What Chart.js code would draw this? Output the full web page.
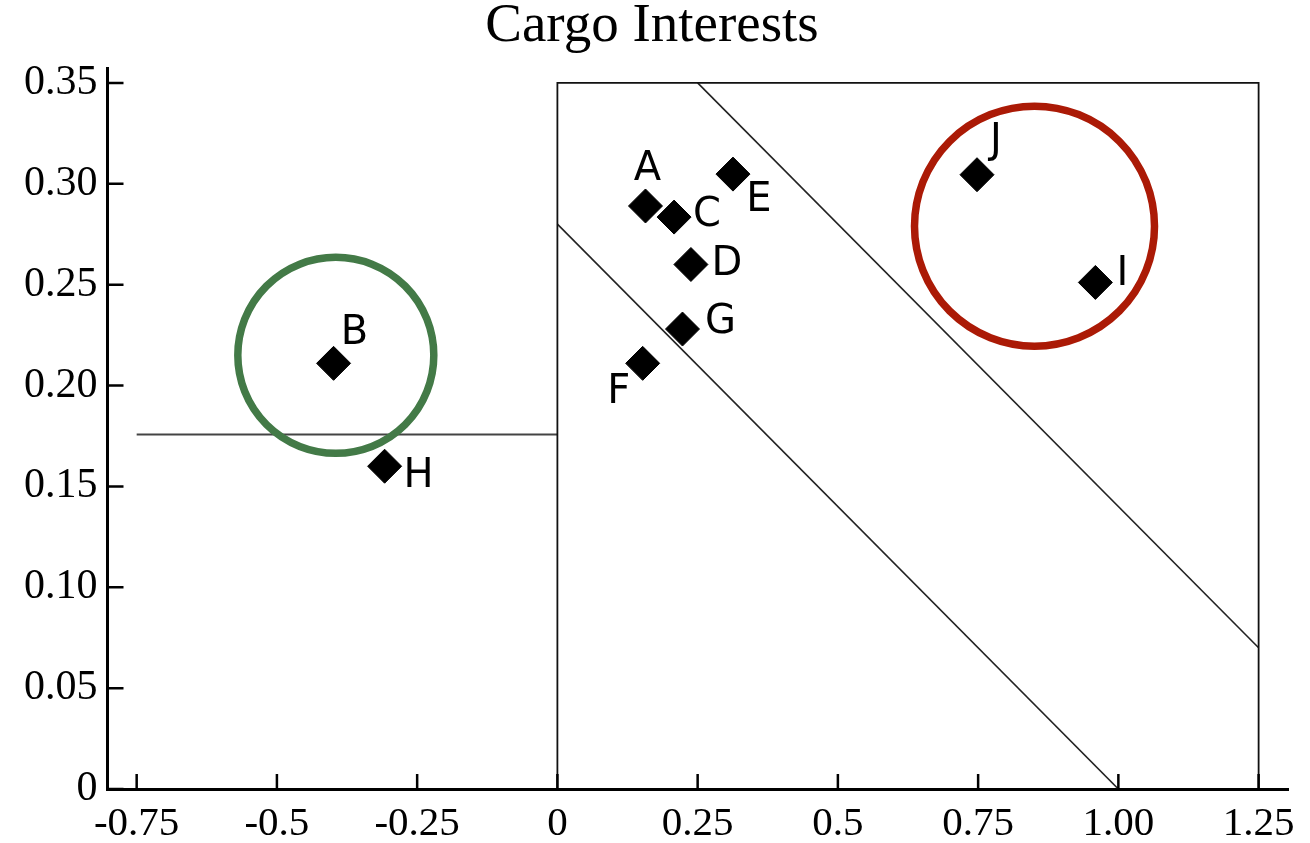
<!DOCTYPE html>
<html lang="en">
<head>
    <meta charset="UTF-8">
    <title>Cargo Interests</title>
    <style>
        body { margin: 0; background: #fff; }
        #wrap { width: 1310px; height: 843px; }
    </style>
</head>
<body>
    <div id="wrap"><canvas id="chart"></canvas></div>

    <script src="https://cdn.jsdelivr.net/npm/chart.js"></script>
    <script>
        // data
        const pointNames = ['A', 'B', 'C', 'D', 'E', 'F', 'G', 'H', 'I', 'J'];
        const pointX = [0.157, -0.399, 0.208, 0.238, 0.313, 0.152, 0.223, -0.308, 0.959, 0.748];
        const pointY = [0.289, 0.211, 0.2835, 0.260, 0.3048, 0.211, 0.228, 0.160, 0.2511, 0.3045];

        const boxX = [0, 0, 1.25, 1.25];
        const boxY = [0, 0.35, 0.35, 0];
        const lowLineX = [0, 1.0];
        const lowLineY = [0.28, 0];
        const highLineX = [0.25, 1.25];
        const highLineY = [0.35, 0.07];
        const cutLineX = [-0.75, 0];
        const cutLineY = [0.1757, 0.1757];

        const greenCircle = { x: -0.395, y: 0.215 };
        const redCircle = { x: 0.8505, y: 0.279 };

        const xTickValues = [-0.75, -0.5, -0.25, 0, 0.25, 0.5, 0.75, 1.0, 1.25];
        const xTickLabels = ['-0.75', '-0.5', '-0.25', '0', '0.25', '0.5', '0.75', '1.00', '1.25'];
        const yTickValues = [0, 0.05, 0.1, 0.15, 0.2, 0.25, 0.3, 0.35];
        const yTickLabels = ['0', '0.05', '0.10', '0.15', '0.20', '0.25', '0.30', '0.35'];

        // label offsets in px from each diamond (same order as pointNames)
        const labelOffsets = [[2, -36], [21, -30], [33, -1], [36, 0], [26, 26], [-24, 29], [38, -6], [34, 10], [27, -8], [19, -33]];

        const pairs = (xs, ys) => xs.map((x, i) => ({ x: x, y: ys[i] }));

        function lineSet(xs, ys, color, width) {
            return {
                type: 'line', data: pairs(xs, ys), showLine: true,
                borderColor: color, borderWidth: width, pointRadius: 0, fill: false, tension: 0
            };
        }

        const pointLabels = {
            id: 'pointLabels',
            afterDatasetsDraw(chart) {
                const ctx = chart.ctx;
                const meta = chart.getDatasetMeta(0);
                ctx.save();
                ctx.font = '40px "DejaVu Sans"';
                ctx.fillStyle = '#000';
                ctx.textAlign = 'center';
                ctx.textBaseline = 'middle';
                meta.data.forEach((el, i) => {
                    ctx.fillText(pointNames[i], el.x + labelOffsets[i][0], el.y + labelOffsets[i][1]);
                });
                ctx.restore();
            }
        };

        // tick marks pointing inward
        const innerTicks = {
            id: 'innerTicks',
            afterDraw(chart) {
                const ctx = chart.ctx;
                const x = chart.scales.x, y = chart.scales.y;
                ctx.save();
                ctx.strokeStyle = '#000';
                ctx.lineWidth = 2.5;
                ctx.beginPath();
                xTickValues.forEach(v => {
                    const px = x.getPixelForValue(v);
                    ctx.moveTo(px, y.bottom);
                    ctx.lineTo(px, y.bottom - 15);
                });
                yTickValues.forEach(v => {
                    const py = y.getPixelForValue(v);
                    ctx.moveTo(x.left, py);
                    ctx.lineTo(x.left + 16, py);
                });
                ctx.stroke();
                ctx.restore();
            }
        };

        new Chart(document.getElementById('chart'), {
            type: 'scatter',
            data: {
                datasets: [
                    {
                        data: pairs(pointX, pointY),
                        pointStyle: 'rectRot', pointRadius: 17,
                        backgroundColor: '#000', borderColor: '#000', borderWidth: 1
                    },
                    {
                        data: [greenCircle], pointStyle: 'circle', pointRadius: 98,
                        backgroundColor: 'rgba(0,0,0,0)', borderColor: '#437a47', borderWidth: 7.5
                    },
                    {
                        data: [redCircle], pointStyle: 'circle', pointRadius: 120,
                        backgroundColor: 'rgba(0,0,0,0)', borderColor: '#ab1a06', borderWidth: 7.5
                    },
                    lineSet(boxX, boxY, '#111', 1.8),
                    lineSet(lowLineX, lowLineY, '#222', 1.6),
                    lineSet(highLineX, highLineY, '#222', 1.6),
                    lineSet(cutLineX, cutLineY, '#444', 2)
                ]
            },
            options: {
                responsive: true,
                maintainAspectRatio: false,
                animation: false,
                events: [],
                layout: { autoPadding: false, padding: { left: 14, right: 20, top: 0, bottom: -17 } },
                plugins: {
                    legend: { display: false },
                    tooltip: { enabled: false },
                    title: {
                        display: true,
                        text: 'Cargo Interests',
                        color: '#000',
                        font: { family: '"Liberation Serif"', size: 55, weight: 'normal', lineHeight: 1 },
                        padding: { top: -1, bottom: 14 }
                    }
                },
                scales: {
                    x: {
                        type: 'linear', min: -0.802, max: 1.304,
                        afterBuildTicks: s => { s.ticks = xTickValues.map(v => ({ value: v })); },
                        ticks: {
                            callback: (v, i) => xTickLabels[i],
                            color: '#000', padding: 15, maxRotation: 0, autoSkip: false,
                            font: { family: '"Liberation Serif"', size: 41, lineHeight: 1 }
                        },
                        grid: { display: false, drawTicks: false },
                        border: { display: true, color: '#000', width: 3 }
                    },
                    y: {
                        type: 'linear', min: 0, max: 0.3574,
                        afterBuildTicks: s => { s.ticks = yTickValues.map(v => ({ value: v })); },
                        ticks: {
                            callback: (v, i) => yTickLabels[i],
                            color: '#000', padding: 10, autoSkip: false,
                            font: { family: '"Liberation Serif"', size: 42, lineHeight: 1 }
                        },
                        grid: { display: false, drawTicks: false },
                        border: { display: true, color: '#000', width: 3 }
                    }
                }
            },
            plugins: [pointLabels, innerTicks]
        });
    </script>
</body>
</html>
